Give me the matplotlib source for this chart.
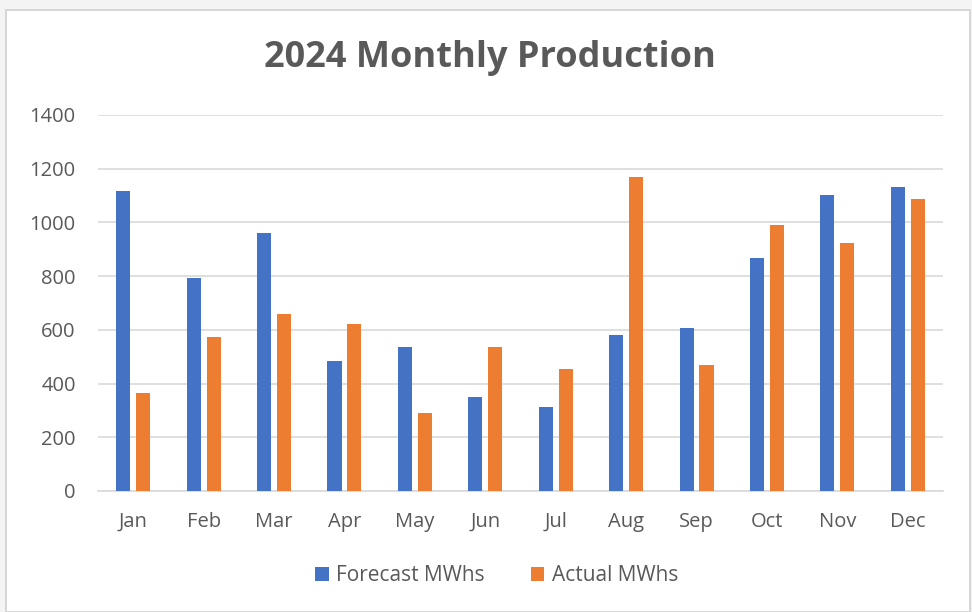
import numpy as np
import matplotlib.pyplot as plt
from matplotlib.patches import Rectangle

months = ['Jan', 'Feb', 'Mar', 'Apr', 'May', 'Jun', 'Jul', 'Aug', 'Sep', 'Oct', 'Nov', 'Dec']
forecast = [1117, 794, 959, 484, 537, 349, 312, 582, 606, 869, 1102, 1132]
actual = [364, 575, 658, 621, 289, 537, 454, 1170, 469, 989, 922, 1087]

blue = '#4472C4'
orange = '#ED7D31'
grey_text = '#595959'

fig = plt.figure(figsize=(9.72, 6.12), dpi=100, facecolor='#f4f4f4')
# white chart box with light border, kept behind the axes
fig.patches.append(Rectangle((6 / 972, 0), 964 / 972, 602 / 612, transform=fig.transFigure,
                             facecolor='white', edgecolor='#d0d0d0', linewidth=1.2, zorder=-1))

ax = fig.add_axes([98 / 972, 121 / 612, 845 / 972, 376 / 612])
ax.set_facecolor('none')
ax.set_zorder(1)

x = np.arange(len(months))
w = 0.2
ax.bar(x - 0.142, forecast, w, color=blue, label='Forecast MWhs', zorder=3)
ax.bar(x + 0.142, actual, w, color=orange, label='Actual MWhs', zorder=3)

ax.set_xlim(-0.5, 11.5)
ax.set_ylim(0, 1400)
ax.set_yticks(range(0, 1401, 200))
ax.set_xticks(x)
ax.set_xticklabels(months)
ax.yaxis.grid(True, color='#d9d9d9', linewidth=1.2, zorder=0)
ax.set_axisbelow(True)
ax.tick_params(length=0, labelsize=14.5, colors=grey_text)
ax.tick_params(axis='y', pad=16)
ax.tick_params(axis='x', pad=15)
for s in ['top', 'right', 'left']:
    ax.spines[s].set_visible(False)
ax.spines['bottom'].set_color('#d9d9d9')
ax.spines['bottom'].set_linewidth(1.2)

for lbl in ax.get_xticklabels() + ax.get_yticklabels():
    lbl.set_family('Open Sans')

fig.text(0.504, 0.905, '2024 Monthly Production', ha='center', va='center',
         fontsize=26, fontweight='bold', color=grey_text, family='Open Sans')

fig.legend(loc='center', bbox_to_anchor=(0.511, 0.059), ncol=2, frameon=False,
           prop={'family': 'Open Sans', 'size': 15}, labelcolor=grey_text,
           handlelength=0.65, handleheight=0.65, handletextpad=0.35, columnspacing=2.2)

fig.savefig('out.png', dpi=100, facecolor=fig.get_facecolor())
